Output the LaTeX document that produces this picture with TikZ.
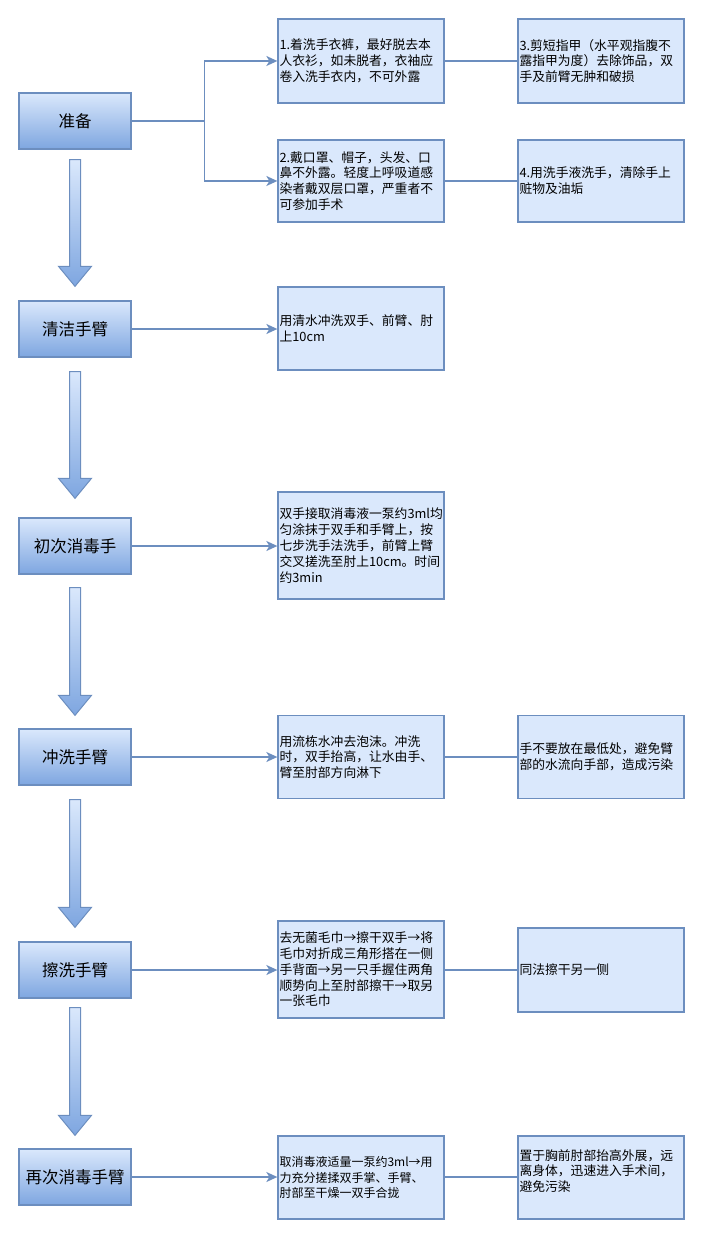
\documentclass[tikz,border=0pt]{standalone}
\usepackage{fontspec}
\setmainfont{Noto Sans CJK SC}
\usetikzlibrary{arrows.meta,calc}
\definecolor{dblue}{HTML}{6C8EBF}
\definecolor{lblue}{HTML}{DAE8FC}
\definecolor{mblue}{HTML}{7EA6E0}
\tikzset{
  stepbox/.style={draw=dblue, line width=1.3pt, top color=lblue, bottom color=mblue,
    minimum width=112pt, minimum height=56pt, inner sep=0pt,
    font=\fontsize{16.5}{20}\selectfont, text=black},
  infobox/.style={draw=dblue, line width=1.3pt, fill=lblue, minimum width=166pt,
    text width=163pt, inner xsep=1.5pt, inner ysep=0pt, align=left,
    font=\fontsize{12.8}{15.8}\selectfont, text=black},
  conn/.style={draw=dblue, line width=1.5pt},
  connarrow/.style={conn, -{Stealth[length=11pt,width=10pt,inset=3pt]}},
  bigarrowstyle/.style={draw=dblue, line width=1pt, top color=lblue, bottom color=mblue}
}
\newcommand{\bigarrowdraw}[4]{%
  \path[bigarrowstyle] let \p1=($(#1.south)+(0,-#3)$), \p2=($(#2.north)+(0,#4)$) in
    (\x1-5.5,\y1) -- (\x1+5.5,\y1) -- (\x1+5.5,\y2+20) -- (\x1+16.5,\y2+20) --
    (\x1,\y2) -- (\x1-16.5,\y2+20) -- (\x1-5.5,\y2+20) -- cycle;}
\begin{document}
\begin{tikzpicture}[x=1pt,y=1pt]
\useasboundingbox (0,0) rectangle (703,-1238);
% left steps
\node[stepbox] (p1) at (75,-121) {准备};
\node[stepbox] (p2) at (75,-329) {清洁手臂};
\node[stepbox] (p3) at (75,-546) {初次消毒手};
\node[stepbox] (p4) at (75,-757) {冲洗手臂};
\node[stepbox] (p5) at (75,-970) {擦洗手臂};
\node[stepbox] (p6) at (75,-1177) {再次消毒手臂};
% column A
\node[infobox, minimum height=84pt] (a1) at (361,-61) {1.着洗手衣裤，最好脱去本\\人衣衫，如未脱者，衣袖应\\卷入洗手衣内，不可外露};
\node[infobox, minimum height=82pt] (a2) at (361,-181) {2.戴口罩、帽子，头发、口\\鼻不外露。轻度上呼吸道感\\染者戴双层口罩，严重者不\\可参加手术};
\node[infobox, minimum height=83pt] (b) at (361,-328.5) {用清水冲洗双手、前臂、肘\\上10cm};
\node[infobox, minimum height=107pt] (c) at (361,-545.5) {双手接取消毒液一泵约3ml均\\匀涂抹于双手和手臂上，按\\七步洗手法洗手，前臂上臂\\交叉搓洗至肘上10cm。时间\\约3min};
\node[infobox, minimum height=83pt] (d) at (361,-757) {用流栋水冲去泡沫。冲洗\\时，双手抬高，让水由手、\\臂至肘部方向淋下};
\node[infobox, minimum height=97pt] (e) at (361,-969.5) {去无菌毛巾→擦干双手→将\\毛巾对折成三角形搭在一侧\\手背面→另一只手握住两角\\顺势向上至肘部擦干→取另\\一张毛巾};
\node[infobox, minimum height=83pt, font=\fontsize{12}{15.8}\selectfont] (f) at (361,-1177.5) {取消毒液适量一泵约3ml→用\\力充分搓揉双手掌、手臂、\\肘部至干燥一双手合拢};
% column B
\node[infobox, minimum height=84pt] (a3) at (601,-61) {3.剪短指甲（水平观指腹不\\露指甲为度）去除饰品，双\\手及前臂无肿和破损};
\node[infobox, minimum height=82pt] (a4) at (601,-181) {4.用洗手液洗手，清除手上\\赃物及油垢};
\node[infobox, minimum height=83pt] (d2) at (601,-757) {手不要放在最低处，避免臂\\部的水流向手部，造成污染};
\node[infobox, minimum height=84pt] (e2) at (601,-970) {同法擦干另一侧};
\node[infobox, minimum height=83pt] (f2) at (601,-1177.5) {置于胸前肘部抬高外展，远\\离身体，迅速进入手术间，\\避免污染\rule[-14pt]{0pt}{1pt}};
% connectors
\draw[connarrow] (p1.east) -- ++(73,0) |- (a1.west);
\draw[connarrow] (p1.east) -- ++(73,0) |- (a2.west);
\draw[conn] (a1.east) -- (a3.west);
\draw[conn] (a2.east) -- (a4.west);
\draw[connarrow] (p2.east) -- (p2.east -| b.west);
\draw[connarrow] (p3.east) -- (p3.east -| c.west);
\draw[connarrow] (p4.east) -- (d.west);
\draw[conn] (d.east) -- (d2.west);
\draw[connarrow] (p5.east) -- (p5.east -| e.west);
\draw[conn] (e.east |- p5.east) -- (p5.east -| e2.west);
\draw[connarrow] (p6.east) -- (p6.east -| f.west);
\draw[conn] (f.east |- p6.east) -- (p6.east -| f2.west);
% big arrows
\bigarrowdraw{p1}{p2}{10}{14}
\bigarrowdraw{p2}{p3}{14}{19}
\bigarrowdraw{p3}{p4}{13}{13}
\bigarrowdraw{p4}{p5}{14}{14}
\bigarrowdraw{p5}{p6}{9}{13}
\end{tikzpicture}
\end{document}
